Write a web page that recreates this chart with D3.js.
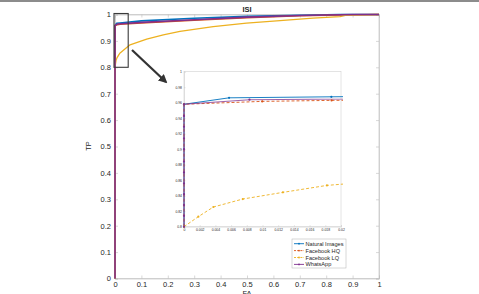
<!DOCTYPE html>
<html>
<head>
<meta charset="utf-8">
<script src="https://cdn.jsdelivr.net/npm/d3@7"></script>
<style>
  body { margin: 0; background: #fff; }
  svg text { font-family: "Liberation Sans", Arial, sans-serif; fill: #262626; }
</style>
</head>
<body>
<div id="chart"></div>
<script>
const width = 479;
const height = 294;

// series (FA, TP)
const naturalFA = [0, 0, 0.00574, 0.01877, 0.1, 0.3, 0.5, 0.7, 0.85, 1];
const naturalTP = [0, 0.958, 0.9663, 0.9676, 0.976, 0.986, 0.993, 0.997, 1, 1];

const hqFA = [0, 0, 0.00996, 0.0188, 0.1, 0.3, 0.5, 0.7, 0.9, 1];
const hqTP = [0, 0.958, 0.9617, 0.963, 0.968, 0.978, 0.988, 0.995, 0.999, 1];

const lqFA = [0, 0, 0.00183, 0.00374, 0.00749, 0.0126, 0.01821, 0.057, 0.12, 0.183, 0.246, 0.372, 0.498, 0.625, 0.75, 0.852, 0.877, 1];
const lqTP = [0, 0.8, 0.813, 0.8254, 0.8357, 0.8443, 0.8533, 0.885, 0.907, 0.923, 0.936, 0.954, 0.967, 0.977, 0.986, 0.992, 0.998, 1];

const waFA = [0, 0, 0, 0, 0, 0, 0, 0, 0, 0, 0, 0, 0, 0.00834, 0.1, 0.3, 0.5, 0.7, 0.9, 1];
const waTP = [0, 0.8, 0.814, 0.828, 0.842, 0.856, 0.870, 0.884, 0.9, 0.914, 0.929, 0.943, 0.958, 0.9639, 0.97, 0.98, 0.99, 0.996, 1, 1];

const seriesNames = ["Natural Images", "Facebook HQ", "Facebook LQ", "WhatsApp"];
const mainTicks = [0, 0.1, 0.2, 0.3, 0.4, 0.5, 0.6, 0.7, 0.8, 0.9, 1];
const insetXTicks = [0, 0.002, 0.004, 0.006, 0.008, 0.01, 0.012, 0.014, 0.016, 0.018, 0.02];
const insetYTicks = [0.8, 0.82, 0.84, 0.86, 0.88, 0.9, 0.92, 0.94, 0.96, 0.98, 1];

const colors = ["#0072BD", "#D95319", "#EDB120", "#7E2F8E"];
const dashes = [null, "3,2", "3,2", null];

const series = [
  {name: seriesNames[0], fa: naturalFA, tp: naturalTP},
  {name: seriesNames[1], fa: hqFA, tp: hqTP},
  {name: seriesNames[2], fa: lqFA, tp: lqTP},
  {name: seriesNames[3], fa: waFA, tp: waTP}
].map((s, i) => ({...s, color: colors[i], dash: dashes[i], pts: s.fa.map((f, j) => [f, s.tp[j]])}));

const svg = d3.select("#chart").append("svg")
  .attr("width", width)
  .attr("height", height);

// grey strip at top of page
svg.append("rect").attr("x", 0).attr("y", 0).attr("width", width).attr("height", 2).attr("fill", "#8c8c8c");

// main axes
const x = d3.scaleLinear().domain([0, 1]).range([115, 379]);
const y = d3.scaleLinear().domain([0, 1]).range([278.5, 14.5]);

const defs = svg.append("defs");
defs.append("clipPath").attr("id", "clipMain")
  .append("rect").attr("x", 114).attr("y", 13).attr("width", 266).attr("height", 266);

svg.append("rect")
  .attr("x", x(0)).attr("y", y(1))
  .attr("width", x(1) - x(0)).attr("height", y(0) - y(1))
  .attr("fill", "#fff").attr("stroke", "#bdbdbd").attr("stroke-width", 0.6);

const xAxis = svg.append("g").attr("transform", `translate(0,${y(0)})`)
  .call(d3.axisBottom(x).tickValues(mainTicks).tickSize(-3).tickPadding(3).tickFormat(d3.format("")));
const yAxis = svg.append("g").attr("transform", `translate(${x(0)},0)`)
  .call(d3.axisLeft(y).tickValues(mainTicks).tickSize(-3).tickPadding(4).tickFormat(d3.format("")));
svg.append("g").attr("transform", `translate(0,${y(1)})`)
  .call(d3.axisTop(x).tickValues(mainTicks).tickSize(-3).tickFormat(""));
svg.append("g").attr("transform", `translate(${x(1)},0)`)
  .call(d3.axisRight(y).tickValues(mainTicks).tickSize(-3).tickFormat(""));

svg.selectAll(".domain").attr("stroke", "#bdbdbd").attr("stroke-width", 0.6);
svg.selectAll(".tick line").attr("stroke", "#bdbdbd").attr("stroke-width", 0.6);
[xAxis, yAxis].forEach(a => a.selectAll("text").attr("font-size", "7.5px").attr("fill", "#262626"));

svg.append("text").attr("x", 247).attr("y", 12).attr("text-anchor", "middle")
  .attr("font-size", "7.5px").attr("font-weight", "bold").text("ISI");
svg.append("text").attr("x", 247).attr("y", 295.5).attr("text-anchor", "middle")
  .attr("font-size", "7.5px").text("FA");
svg.append("text").attr("transform", "translate(91,146) rotate(-90)").attr("text-anchor", "middle")
  .attr("font-size", "7.5px").text("TP");

const line = d3.line().x(d => x(d[0])).y(d => y(d[1]));
const mainG = svg.append("g").attr("clip-path", "url(#clipMain)");
mainG.selectAll("path").data(series).enter().append("path")
  .attr("d", d => line(d.pts))
  .attr("fill", "none")
  .attr("stroke", d => d.color)
  .attr("stroke-width", (d, i) => i === 2 ? 1.3 : 1.6)
  .attr("stroke-linejoin", "round");

// zoom box on main chart
svg.append("rect")
  .attr("x", x(0) - 1).attr("y", y(1) - 1)
  .attr("width", x(0.05) - x(0) + 1).attr("height", y(0.8) - y(1) + 1)
  .attr("fill", "none").attr("stroke", "#3a3a3a").attr("stroke-width", 1.1);

// arrow
defs.append("marker").attr("id", "arrowHead")
  .attr("viewBox", "0 0 10 10").attr("refX", 8).attr("refY", 5)
  .attr("markerWidth", 4).attr("markerHeight", 4).attr("orient", "auto")
  .append("path").attr("d", "M0,0 L10,5 L0,10 z").attr("fill", "#333");
svg.append("line")
  .attr("x1", 132).attr("y1", 50).attr("x2", 166).attr("y2", 82)
  .attr("stroke", "#333").attr("stroke-width", 2.2)
  .attr("marker-end", "url(#arrowHead)");

// inset
const ix = d3.scaleLinear().domain([0, 0.02]).range([184, 341]);
const iy = d3.scaleLinear().domain([0.8, 1]).range([226.7, 71.7]);

defs.append("clipPath").attr("id", "clipInset")
  .append("rect").attr("x", 182).attr("y", 70).attr("width", 161).attr("height", 158);

const inset = svg.append("g");
inset.append("rect")
  .attr("x", ix(0)).attr("y", iy(1))
  .attr("width", ix(0.02) - ix(0)).attr("height", iy(0.8) - iy(1))
  .attr("fill", "#fff").attr("stroke", "#c8c8c8").attr("stroke-width", 0.5);

const ixAxis = inset.append("g").attr("transform", `translate(0,${iy(0.8)})`)
  .call(d3.axisBottom(ix).tickValues(insetXTicks).tickSize(-1.5).tickPadding(2).tickFormat(d3.format("")));
const iyAxis = inset.append("g").attr("transform", `translate(${ix(0)},0)`)
  .call(d3.axisLeft(iy).tickValues(insetYTicks).tickSize(-1.5).tickPadding(2).tickFormat(d3.format("")));
inset.selectAll(".domain").attr("stroke", "#c8c8c8").attr("stroke-width", 0.5);
inset.selectAll(".tick line").attr("stroke", "#c8c8c8").attr("stroke-width", 0.5);
[ixAxis, iyAxis].forEach(a => a.selectAll("text").attr("font-size", "3.4px").attr("fill", "#333"));

const iline = d3.line().x(d => ix(d[0])).y(d => iy(d[1]));
const insetG = inset.append("g").attr("clip-path", "url(#clipInset)");
insetG.selectAll("path").data(series).enter().append("path")
  .attr("d", d => iline(d.pts))
  .attr("fill", "none")
  .attr("stroke", d => d.color)
  .attr("stroke-width", (d, i) => i === 3 ? 1.1 : 0.9)
  .attr("stroke-opacity", (d, i) => i === 3 ? 0.75 : 1)
  .attr("stroke-dasharray", d => d.dash);

series.forEach(s => {
  insetG.selectAll(null)
    .data(s.pts.filter(p => p[0] <= 0.02 && p[1] >= 0.8))
    .enter().append("circle")
    .attr("cx", d => ix(d[0])).attr("cy", d => iy(d[1]))
    .attr("r", 1.1)
    .attr("fill", s.color);
});

// legend
const legend = svg.append("g").attr("transform", "translate(292,239)");
legend.append("rect").attr("width", 54).attr("height", 29)
  .attr("fill", "#fff").attr("stroke", "#b0b0b0").attr("stroke-width", 0.5);
const item = legend.selectAll(".item").data(series).enter().append("g")
  .attr("transform", (d, i) => `translate(0,${4.7 + i * 6.9})`);
item.append("line").attr("x1", 2).attr("x2", 12).attr("y1", 0).attr("y2", 0)
  .attr("stroke", d => d.color).attr("stroke-width", 0.9)
  .attr("stroke-dasharray", d => d.dash ? "2,1.2" : null);
item.append("circle").attr("cx", 7).attr("cy", 0).attr("r", 0.9).attr("fill", d => d.color);
item.append("text").attr("x", 13.5).attr("y", 2).attr("font-size", "5.6px").text(d => d.name);
</script>
</body>
</html>
